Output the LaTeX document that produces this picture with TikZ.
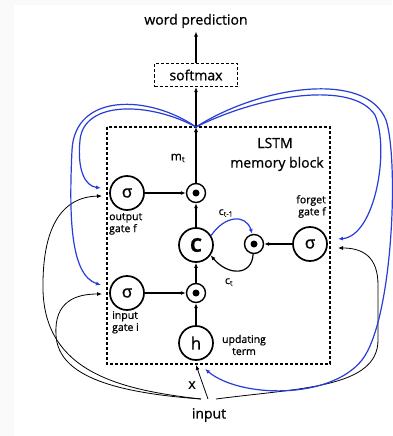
\documentclass[tikz,border=0pt]{standalone}
\usepackage{fontspec}
\setmainfont{Open Sans}[RawFeature={embolden=0.8}]
\usetikzlibrary{arrows.meta, calc, positioning}
\definecolor{recblue}{RGB}{40,60,215}

\begin{document}
\begin{tikzpicture}[
        x=1pt, y=-1pt,
        >={Latex[length=5pt,width=4pt]},
        font=\fontsize{14}{16}\selectfont,
        gate/.style={circle, draw, line width=1.7pt, minimum size=34pt, inner sep=0pt, font=\fontsize{17}{17}\selectfont},
        prod/.style={circle, draw, line width=1.4pt, minimum size=19pt, inner sep=0pt,
            path picture={\fill (path picture bounding box.center) circle (3.5pt);}},
        blockbox/.style={draw, densely dashed, line width=1.2pt},
        lbl/.style={font=\fontsize{10.5}{12}\selectfont, inner sep=1pt},
        flow/.style={->, line width=1.2pt},
        feed/.style={->, line width=0.8pt},
        rec/.style={->, recblue, line width=1.2pt}
    ]

        % === FRAME ===
        \useasboundingbox (0,0) rectangle (392,436);
        \fill[gray!4] (0,0) rectangle (392,436);
        \fill[white] (14,5) rectangle (392,436);

        % === MEMORY BLOCK ===
        \draw[blockbox] (107,127) rectangle (330,364);
        \coordinate (boxtop) at (196,127);
        \coordinate (boxbot) at (196,365);
        \node at (275,143) {LSTM};
        \node at (277,164) {memory block};

        % Gates and cell
        \node[gate] (og) at (127,193) {σ};
        \node[prod] (top) at (196,193) {};
        \node[gate, font=\bfseries\fontsize{19}{19}\selectfont] (cell) at (196,245) {C};
        \node[prod] (fprod) at (254,244) {};
        \node[gate] (fg) at (310,244) {σ};
        \node[gate] (ig) at (127,293) {σ};
        \node[prod] (bot) at (196,293) {};
        \node[gate] (upd) at (196,343) {h};

        % Small labels
        \node[lbl, align=left, anchor=north west] at (108,212) {output\\gate f};
        \node[lbl, align=right, anchor=south east] at (327,219) {forget\\gate f};
        \node[lbl, align=left, anchor=north west] at (111,310) {input\\gate i};
        \node[lbl, align=center] at (244,345) {updating\\term};
        \node[lbl, font=\fontsize{12}{13}\selectfont] at (178,158) {m\textsubscript{t}};
        \node[lbl] at (226,213) {c\textsubscript{t-1}};
        \node[lbl] at (229,282) {c\textsubscript{t}};

        % === OUTPUT ===
        \node[blockbox, minimum width=83pt, minimum height=23pt] (soft) at (196,75) {softmax};
        \node (pred) at (196,21) {word prediction};

        % === FLOW INSIDE THE BLOCK ===
        \draw[flow] (og) -- (top);
        \draw[flow] (ig) -- (bot);
        \draw[flow] (upd) -- (bot);
        \draw[flow] (bot) -- (cell);
        \draw[flow] (cell) -- (top);
        \draw[flow] (fg) -- (fprod);
        \draw[flow] (top) -- (boxtop);
        \draw[flow] (boxtop) -- (soft);
        \draw[flow] (soft) -- (pred);
        \draw[rec] (cell.32) .. controls (225,215) and (246,214) .. (fprod.100);
        \draw[flow] (fprod.-95) .. controls (252,276) and (228,276) .. (cell.-35);

        % === INPUT ===
        \node (inp) at (209,415) {input};
        \node at (192,385) {x};
        \coordinate (inL) at (201,399);
        \coordinate (inX) at (208,399);
        \coordinate (inR) at (216,399);
        \coordinate (ogB) at (102,196);
        \coordinate (igB) at (102,294);
        \coordinate (fgB) at (338,248);

        \draw[feed] (inX) -- (boxbot);
        \draw[feed] (inL) .. controls (120,390) and (45,372) .. (43,290)
            .. controls (42,230) and (60,197) .. (ogB);
        \draw[feed] (inL) .. controls (120,393) and (58,378) .. (56,335)
            .. controls (54,302) and (75,294) .. (igB);
        \draw[feed] (inR) .. controls (300,388) and (378,388) .. (378,340)
            -- (378,285) .. controls (378,256) and (362,248) .. (fgB);

        % === RECURRENT FEEDBACK ===
        \coordinate (ogA) at (101,188);
        \coordinate (igA) at (101,285);
        \coordinate (fgA) at (338,239);
        \coordinate (hA) at (205,369);

        \draw[rec] (boxtop) .. controls (150,95) and (75,92) .. (72,150)
            .. controls (69,215) and (70,275) .. (igA);
        \draw[rec] (boxtop) .. controls (150,102) and (84,100) .. (80,140)
            .. controls (77,170) and (85,186) .. (ogA);
        \draw[rec] (boxtop) .. controls (260,86) and (366,70) .. (386,120)
            .. controls (399,160) and (393,320) .. (362,360)
            .. controls (330,400) and (240,398) .. (hA);
        \draw[rec] (boxtop) .. controls (260,95) and (352,80) .. (375,115)
            .. controls (390,150) and (375,236) .. (fgA);

    \end{tikzpicture}
\end{document}
